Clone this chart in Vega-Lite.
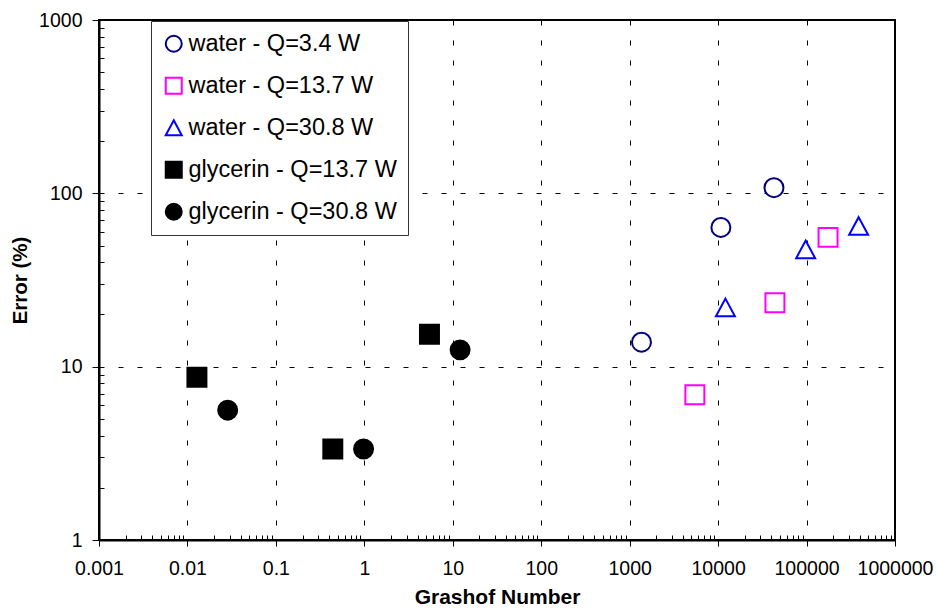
{
  "$schema": "https://vega.github.io/schema/vega-lite/v6.json",
  "width": 796,
  "height": 520,
  "autosize": {"type": "none"},
  "padding": {"left": 99, "top": 20, "right": 41, "bottom": 69},
  "background": "white",
  "config": {
    "view": {"stroke": "black", "strokeWidth": 2},
    "font": "Liberation Sans"
  },
  "data": {
    "values": [
      {"Gr": 1360, "Error": 13.85, "series": "water - Q=3.4 W"},
      {"Gr": 10750, "Error": 63.6, "series": "water - Q=3.4 W"},
      {"Gr": 42800, "Error": 107.8, "series": "water - Q=3.4 W"},
      {"Gr": 5460, "Error": 6.88, "series": "water - Q=13.7 W"},
      {"Gr": 43900, "Error": 23.4, "series": "water - Q=13.7 W"},
      {"Gr": 175000, "Error": 55.7, "series": "water - Q=13.7 W"},
      {"Gr": 12100, "Error": 21.96, "series": "water - Q=30.8 W"},
      {"Gr": 97700, "Error": 47.5, "series": "water - Q=30.8 W"},
      {"Gr": 388000, "Error": 64.8, "series": "water - Q=30.8 W"},
      {"Gr": 0.0128, "Error": 8.7, "series": "glycerin - Q=13.7 W"},
      {"Gr": 0.44, "Error": 3.35, "series": "glycerin - Q=13.7 W"},
      {"Gr": 5.45, "Error": 15.4, "series": "glycerin - Q=13.7 W"},
      {"Gr": 0.0285, "Error": 5.61, "series": "glycerin - Q=30.8 W"},
      {"Gr": 0.98, "Error": 3.35, "series": "glycerin - Q=30.8 W"},
      {"Gr": 12.1, "Error": 12.5, "series": "glycerin - Q=30.8 W"}
    ]
  },
  "mark": {"type": "point", "size": 360, "strokeWidth": 2, "opacity": 1, "fillOpacity": 1, "strokeOpacity": 1},
  "encoding": {
    "x": {
      "field": "Gr",
      "type": "quantitative",
      "scale": {"type": "log", "domain": [0.001, 1000000], "nice": false},
      "axis": {
        "values": [0.001,0.002,0.003,0.004,0.005,0.006,0.007,0.008,0.009,
                   0.01,0.02,0.03,0.04,0.05,0.06,0.07,0.08,0.09,
                   0.1,0.2,0.3,0.4,0.5,0.6,0.7,0.8,0.9,
                   1,2,3,4,5,6,7,8,9,
                   10,20,30,40,50,60,70,80,90,
                   100,200,300,400,500,600,700,800,900,
                   1000,2000,3000,4000,5000,6000,7000,8000,9000,
                   10000,20000,30000,40000,50000,60000,70000,80000,90000,
                   100000,200000,300000,400000,500000,600000,700000,800000,900000,
                   1000000],
        "labelExpr": "abs(log(datum.value)/LN10 - round(log(datum.value)/LN10)) < 0.001 ? format(datum.value, '.3~f') : ''",
        "tickSize": {"condition": {"test": "abs(log(datum.value)/LN10 - round(log(datum.value)/LN10)) < 0.001", "value": 6}, "value": -5},
        "grid": true,
        "gridOpacity": {"condition": {"test": "abs(log(datum.value)/LN10 - round(log(datum.value)/LN10)) < 0.001", "value": 1}, "value": 0},
        "gridDash": [5, 15],
        "gridColor": "black",
        "gridWidth": 1,
        "domainColor": "black",
        "domainWidth": 2,
        "tickColor": "black",
        "tickWidth": 1,
        "labelFontSize": 19.5,
        "labelColor": "black",
        "labelPadding": 13,
        "labelFlush": false,
        "labelOverlap": false,
        "title": "Grashof Number",
        "titleFontSize": 21,
        "titleFontWeight": "bold",
        "titleColor": "black",
        "titlePadding": 9
      }
    },
    "y": {
      "field": "Error",
      "type": "quantitative",
      "scale": {"type": "log", "domain": [1, 1000], "nice": false},
      "axis": {
        "values": [1,2,3,4,5,6,7,8,9,10,20,30,40,50,60,70,80,90,100,200,300,400,500,600,700,800,900,1000],
        "labelExpr": "abs(log(datum.value)/LN10 - round(log(datum.value)/LN10)) < 0.001 ? format(datum.value, '.3~f') : ''",
        "tickSize": {"condition": {"test": "abs(log(datum.value)/LN10 - round(log(datum.value)/LN10)) < 0.001", "value": 7}, "value": -5},
        "grid": true,
        "gridOpacity": {"condition": {"test": "abs(log(datum.value)/LN10 - round(log(datum.value)/LN10)) < 0.001", "value": 1}, "value": 0},
        "gridDash": [5, 14],
        "gridColor": "black",
        "gridWidth": 1,
        "domainColor": "black",
        "domainWidth": 2,
        "tickColor": "black",
        "tickWidth": 1,
        "labelFontSize": 19.5,
        "labelColor": "black",
        "labelPadding": 10,
        "labelOverlap": false,
        "title": "Error (%)",
        "titleFontSize": 20.5,
        "titleFontWeight": "bold",
        "titleColor": "black",
        "titlePadding": 8
      }
    },
    "stroke": {
      "field": "series",
      "type": "nominal",
      "scale": {
        "domain": ["water - Q=3.4 W", "water - Q=13.7 W", "water - Q=30.8 W", "glycerin - Q=13.7 W", "glycerin - Q=30.8 W"],
        "range": ["#000080", "#FF00FF", "#0000FF", "#000000", "#000000"]
      },
      "legend": {
        "orient": "none", "legendX": 52, "legendY": 1, "title": null,
        "fillColor": "white", "strokeColor": "#333333", "padding": 11,
        "rowPadding": 17, "labelFontSize": 23.5, "labelOffset": 3, "labelColor": "black",
        "symbolSize": 256, "symbolStrokeWidth": 2, "labelLimit": 400
      }
    },
    "fill": {
      "field": "series",
      "type": "nominal",
      "scale": {
        "domain": ["water - Q=3.4 W", "water - Q=13.7 W", "water - Q=30.8 W", "glycerin - Q=13.7 W", "glycerin - Q=30.8 W"],
        "range": ["#FFFFFF", "#FFFFFF", "#FFFFFF", "#000000", "#000000"]
      },
      "legend": {
        "orient": "none", "legendX": 52, "legendY": 1, "title": null,
        "fillColor": "white", "strokeColor": "#333333", "padding": 11,
        "rowPadding": 17, "labelFontSize": 23.5, "labelOffset": 3, "labelColor": "black",
        "symbolSize": 256, "symbolStrokeWidth": 2, "labelLimit": 400
      }
    },
    "shape": {
      "field": "series",
      "type": "nominal",
      "scale": {
        "domain": ["water - Q=3.4 W", "water - Q=13.7 W", "water - Q=30.8 W", "glycerin - Q=13.7 W", "glycerin - Q=30.8 W"],
        "range": ["circle", "square", "M0,-0.93L1,0.93L-1,0.93Z", "square", "circle"]
      },
      "legend": {
        "orient": "none", "legendX": 52, "legendY": 1, "title": null,
        "fillColor": "white", "strokeColor": "#333333", "padding": 11,
        "rowPadding": 17, "labelFontSize": 23.5, "labelOffset": 3, "labelColor": "black",
        "symbolSize": 256, "symbolStrokeWidth": 2, "labelLimit": 400
      }
    }
  }
}
